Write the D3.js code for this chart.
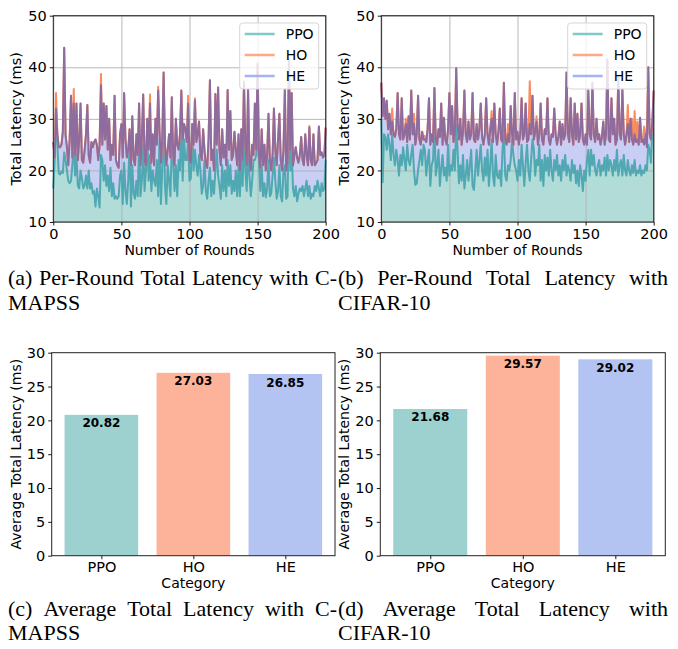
<!DOCTYPE html>
<html>
<head>
<meta charset="utf-8">
<script src="https://cdn.jsdelivr.net/npm/d3@7"></script>
<style>
body{margin:0;background:#fff}
text{font-family:"DejaVu Sans",sans-serif}
text.cap{font-family:"Liberation Serif","Times New Roman",serif}
</style>
</head>
<body>
<svg id="fig" width="678" height="649"></svg>
<script>
// per-round latency, C-MAPSS (rounds 0..200)
const ppoA=[16.5,22,31.8,25,19.5,19.2,19.8,19.5,23.5,22,
20,18,17.5,18,21,25.5,19,23,17,16.5,
20,18.5,16.5,17,19,16.5,20,16.5,17.5,15.5,
16,13,16.5,15,12.8,23,22,18,21,17,
19,16,20.5,15,17.5,14.5,15,14.5,15,19,
20,13.5,21.5,16,13.5,18,25,13,21,15.5,
14.5,18,15,26,15,18,25,16,20,26.5,
18,23,16,20,18,17,22,15,26,13.5,
20,34,17,13.5,21,18,15,25,22,16,
21,15,22,20,31,18,26,22,22,26,
18,18.5,28,20,24,21,19,23,20,15.5,
17,22,16,14.5,18,20.5,15,18,15.5,20,
24,19,17,14.5,21,16,20,15,22,17,
21,15.5,18,16,20,15,21,15,22,17,
27,20,16,25,19,15,18,22,22,23,
29,22,16,21,15,17.5,14.8,16.5,22,15,
15.5,19,22.5,18,14.5,16,21,15,14,20,
21,14.5,15,31.8,20,24,16.5,15,17,14,
15.5,16.5,16,17,15,16.5,18,15,17,14.5,
15.5,15,17,16,18,16.5,15,17.5,16,16.5,
22];
const hoA=[25.5,22.5,35,27,24.5,24.5,25,27.5,43.8,27,
24.5,21,26,34.5,22.5,35.8,23,33,22,26,
33,22,21.5,24,27,32.7,23,21.5,25.5,24.5,
25.5,26,25,22,25,38.7,25,33,26,32.5,
24,30,22,25,23,34.5,22,21,20.5,27,
29,22.5,35,26,22.5,24,28,21,30.5,22,
21,27,23,33,21,26,34.7,22,21,30,
24,34.7,21.5,27,21,30,25,36.2,27.5,21.5,
26,39,25,21,24,27,22.5,34.2,23,21,
30,25,24,27,35.5,26,29,28,25.5,34.5,
22,21.5,29,25,34,25.5,27,29.5,23,22,
28,24,21,20.5,26,37.5,22,24,20,34.8,
25,36.1,24,21,28,22.5,25,21,35.6,24,
31.5,22,23,27.5,24,21,27,20,28,22,
37.2,25,21,35.7,22,20,25,23,33,24,
40.7,23,20.5,28,21,25,20,23,31,22,
20,23,32,24,21,26,31,22,20,24,
35.7,20,22,41.5,24,35,21,23,24.5,22.5,
21.5,23,26.5,22,21,27,23,21,28.6,22,
21,27,21,21.5,22,28.5,23,23.5,22.5,23,
28.3];
const heA=[25.5,22.5,32,27,24.5,24.5,25,27.5,43.8,27,
24.5,21,26,34.5,22.5,33,23,33,22,26,
33,22,21.5,24,27,32.7,23,21.5,25.5,24.5,
25.5,26,25,22,25,36.5,25,33,26,32.5,
24,30,22,25,23,34.5,22,21,20.5,27,
29,22.5,35,26,22.5,24,28,21,30.5,22,
21,27,23,33,21,26,34.7,22,21,30,
24,33,21.5,27,21,30,25,35.5,27.5,21.5,
26,39,25,21,24,27,22.5,34.2,23,21,
30,25,24,27,35.5,26,29,28,25.5,33,
22,21.5,29,25,33.6,25.5,27,29.5,23,22,
28,24,21,20.5,26,37.5,22,24,20,34.8,
25,36.1,24,21,28,22.5,25,21,35.6,24,
31.5,22,23,27.5,24,21,27,20,28,22,
37.2,25,21,35.7,22,20,25,23,33,24,
40.7,23,20.5,28,21,25,20,23,31,22,
20,23,32,24,21,26,31,22,20,24,
35.7,20,22,41.5,24,35,21,23,24.5,22.5,
21.5,23,26.5,22,21,27,23,21,28.3,22,
21,27,21,21.5,22,28.5,23,23.5,22.5,23,
28.3];

// per-round latency, CIFAR-10 (rounds 0..200)
const ppoB=[30,17.7,27,26.5,24,27,25,22,27,23,
21,24,22,19,23,21,24.5,22,20,25,
22,21,23,25,20,17.2,17.5,20,22,24,
21,25,24,19,22,24,17,21,22,29.5,
19,21,24,17,20.5,23,19,20.5,18,25,
19,21,20,24,20,29,24,17.5,21,18,
23,16.5,19,22,18,21,24,17,16.2,20,
24,19,22,25,20,18,22.5,19,24,17,
21,26,19,17,23,19,18.5,20,17,24,
27,19,18,21,20,22,26,23,21,20,
18,22,19,25,21,17,21.5,25,20,18,
22,26,24,19,22,21,25,18,22,17,
23,20,22.5,19,24,20,18,22,20,23,
19,21,18,22,20,23,19,21,20,18,
22,19.5,21,17.5,20,17,21,19,16,20,
18,22,24,19,24,21,23,20,19,21,
22,19,21,20,22.5,19,23,20,22,21,
19,22,20,24,19,21,22,19,23,20,
19,22,20,19,21,19.5,22,19,20,19.5,
21,19,20,19.5,21,20,25,24,21.5,28,
28];
const hoB=[37,30.5,34,30,33.5,28,31,27,32,27,
26.5,28,35,27,26,34,26,27,30,25.5,
30.5,26,35.5,27,31,25,27,34.5,26,25,
27.5,26,26.7,25.5,28,34,25,27,25.5,36,
26,25,28,26.5,33,25,30.2,26,25,28,
35,27,32.5,25.5,27,39.8,29,26,30,25,
27.5,35.5,27,25.5,29.5,26,27,35,26,25.5,
29,26,28,33,26.5,25,27,34,27,25,
28,31.5,25.5,33,27,25,27.5,32,26,25.5,
37,26,25,29,25.5,32.5,27,25,35,26,
27.5,25,27,34,26,27,33,25.5,26,37.3,
27,34.5,26,27.5,30.5,25,27,33,26,25,
28,27,34,26,25,27,26.5,32,27,25,
26.5,29.5,25,29,26,27,39,27,25.5,34,
27,25,33,26,31,25.5,27,33,26,25,
27,25,35.5,27,26,37,27,25.5,30,26,
27,25,26.5,29.5,25,27,41.5,26,25.5,34,
27,30,25,26,38,27,26,35.8,27,25,
27,32.7,25.5,30,30,25,31.5,25.5,29.5,25,
30.2,25.5,26,28.5,27,27.5,40,27,26,29.5,
35.5];
const heB=[37,30.5,34,30,33.5,28,31,27,29.5,27,
26.5,28,35,27,26,34,26,27,29,25.5,
30.5,26,35.5,27,29,25,27,34.5,26,25,
27.5,26,26,25.5,28,34,25,27,25.5,36,
26,25,28,26.5,33,25,30.2,26,25,28,
35,27,32.5,25.5,27,39.8,29,26,30,25,
27.5,35.5,27,25.5,29.5,26,27,35,26,25.5,
29,26,28,33,26.5,25,27,34,27,25,
28,30,25.5,33,27,25,27.5,32,26,25.5,
37,26,25,27,25.5,32.5,27,25,35,26,
27.5,25,27,34,26,27,33,25.5,26,29,
27,34.5,26,27.5,29.5,25,27,33,26,25,
28,27,34,26,25,27,26.5,32,27,25,
26.5,29.5,25,29,26,27,39,27,25.5,34,
27,25,33,26,31,25.5,27,33,26,25,
27,25,35.5,27,26,37,27,25.5,30,26,
27,25,26.5,29.5,25,27,41.5,26,25.5,34,
27,30,25,26,38,27,26,35.8,27,25,
27,29,25.5,30,26,25,27,25.5,26,25,
30.2,25.5,26,25,27,24.5,40,27,26,29.5,
35.5];

const categories=["PPO","HO","HE"];
const avgCmapss=[20.82,27.03,26.85];
const avgCifar=[21.68,29.57,29.02];
const roundTicks=[0,50,100,150,200];
const latencyTicks=[10,20,30,40,50];
const avgTicks=[0,5,10,15,20,25,30];

const fillColors={PPO:"#b2dcd8",HE:"#c9cef5"};
const lineColors={PPO:"#4fa8b2",HO:"#f98b5e",HE:"#8f6c9e"};
const legendColors={PPO:"#7fcac5",HO:"#fca98a",HE:"#a3b2f0"};
const barColors=["#9dd1cf","#fdb399","#b3c3f2"];

const svg=d3.select("#fig");
svg.append("rect").attr("width",678).attr("height",649).attr("fill","#fff");

function styleAxis(s){
  s.select(".domain").remove();
  s.selectAll(".tick line").attr("stroke","#000").attr("stroke-width",0.9);
  s.selectAll(".tick text").attr("font-size",14.5).attr("fill","#000")
    .attr("font-family","DejaVu Sans");
}

function drawRounds(left,right,ppo,ho,he){
  const top=15.7,bottom=222;
  const x=d3.scaleLinear().domain([0,200]).range([left,right]);
  const y=d3.scaleLinear().domain([10,50]).range([bottom,top]);
  const g=svg.append("g");
  const area=d3.area().x((d,i)=>x(i)).y0(y(10)).y1(d=>y(d));
  const line=d3.line().x((d,i)=>x(i)).y(d=>y(d));

  g.append("path").attr("d",area(he)).attr("fill",fillColors.HE);
  g.append("path").attr("d",area(ppo)).attr("fill",fillColors.PPO);

  const xg=g.append("g").attr("transform",`translate(0,${bottom})`)
    .call(d3.axisBottom(x).tickValues(roundTicks).tickSize(-(bottom-top)).tickFormat(""));
  const yg=g.append("g").attr("transform",`translate(${left},0)`)
    .call(d3.axisLeft(y).tickValues(latencyTicks).tickSize(-(right-left)).tickFormat(""));
  [xg,yg].forEach(s=>{
    s.select(".domain").remove();
    s.selectAll("line").attr("stroke","#b0b0b0").attr("stroke-width",0.9);
  });

  g.append("path").attr("d",line(ppo)).attr("fill","none")
    .attr("stroke",lineColors.PPO).attr("stroke-width",2).attr("stroke-linejoin","round");
  g.append("path").attr("d",line(ho)).attr("fill","none")
    .attr("stroke",lineColors.HO).attr("stroke-width",2).attr("stroke-linejoin","round");
  g.append("path").attr("d",line(he)).attr("fill","none")
    .attr("stroke",lineColors.HE).attr("stroke-width",2).attr("stroke-linejoin","round");

  g.append("rect").attr("x",left).attr("y",top)
    .attr("width",right-left).attr("height",bottom-top)
    .attr("fill","none").attr("stroke","#222").attr("stroke-width",1);

  g.append("g").attr("transform",`translate(0,${bottom})`)
    .call(d3.axisBottom(x).tickValues(roundTicks).tickSize(3.5).tickPadding(3))
    .call(styleAxis);
  g.append("g").attr("transform",`translate(${left},0)`)
    .call(d3.axisLeft(y).tickValues(latencyTicks).tickSize(3.5).tickPadding(3))
    .call(styleAxis);

  g.append("text").attr("x",(left+right)/2).attr("y",255)
    .attr("text-anchor","middle").attr("font-size",14).text("Number of Rounds");
  g.append("text").attr("transform",`translate(${left-32},${(top+bottom)/2}) rotate(-90)`)
    .attr("text-anchor","middle").attr("font-size",14.5).text("Total Latency (ms)");

  // legend
  const lx=right-86,ly=23;
  const lg=g.append("g").attr("transform",`translate(${lx},${ly})`);
  lg.append("rect").attr("width",79).attr("height",66).attr("rx",3)
    .attr("fill","#fff").attr("fill-opacity",0.8).attr("stroke","#d6d6d6");
  categories.forEach((c,i)=>{
    const yy=11+i*21;
    lg.append("line").attr("x1",5).attr("x2",35).attr("y1",yy).attr("y2",yy)
      .attr("stroke",legendColors[c]).attr("stroke-width",2.5);
    lg.append("text").attr("x",46).attr("y",yy).attr("dy","0.36em")
      .attr("font-size",14).text(c);
  });
}

function drawBars(left,right,vals){
  const top=352.7,bottom=555.7;
  const x=d3.scaleLinear().domain([-0.54,2.54]).range([left,right]);
  const y=d3.scaleLinear().domain([0,30]).range([bottom,top]);
  const g=svg.append("g");
  g.selectAll("rect.bar").data(vals).enter().append("rect").attr("class","bar")
    .attr("x",(d,i)=>x(i-0.4)).attr("width",(d,i)=>x(i+0.4)-x(i-0.4))
    .attr("y",d=>y(d)).attr("height",d=>y(0)-y(d))
    .attr("fill",(d,i)=>barColors[i]);
  g.selectAll("text.val").data(vals).enter().append("text").attr("class","val")
    .attr("x",(d,i)=>x(i)).attr("y",d=>y(d)+12.5)
    .attr("text-anchor","middle").attr("font-size",12).attr("font-weight","bold")
    .text(d=>d.toFixed(2));
  g.append("rect").attr("x",left).attr("y",top)
    .attr("width",right-left).attr("height",bottom-top)
    .attr("fill","none").attr("stroke","#222").attr("stroke-width",1);
  g.append("g").attr("transform",`translate(0,${bottom})`)
    .call(d3.axisBottom(x).tickValues([0,1,2]).tickFormat(i=>categories[i]).tickSize(3.5).tickPadding(3))
    .call(styleAxis);
  g.append("g").attr("transform",`translate(${left},0)`)
    .call(d3.axisLeft(y).tickValues(avgTicks).tickSize(3.5).tickPadding(3))
    .call(styleAxis);
  g.append("text").attr("x",(left+right)/2).attr("y",588)
    .attr("text-anchor","middle").attr("font-size",14).text("Category");
  g.append("text").attr("transform",`translate(${left-31},${(top+bottom)/2}) rotate(-90)`)
    .attr("text-anchor","middle").attr("font-size",14).text("Average Total Latency (ms)");
}

function caption(line,x0,x1,yb,justify){
  const words=line.split(" ");
  const nodes=words.map(w=>svg.append("text").attr("class","cap").attr("y",yb)
    .attr("font-size",22).attr("fill","#000").text(w));
  const widths=nodes.map(n=>n.node().getComputedTextLength());
  const gap=justify&&words.length>1?Math.max(3,(x1-x0-d3.sum(widths))/(words.length-1)):5.5;
  let cx=x0;
  nodes.forEach((n,i)=>{n.attr("x",cx);cx+=widths[i]+gap;});
}

drawRounds(53.3,325.7,ppoA,hoA,heA);
drawRounds(381.3,653.7,ppoB,hoB,heB);
drawBars(51.7,335,avgCmapss);
drawBars(380.3,665.3,avgCifar);

caption("(a) Per-Round Total Latency with C-",8,337,285,true);
caption("MAPSS",8,337,310,false);
caption("(b) Per-Round Total Latency with",338,668,285,true);
caption("CIFAR-10",338,668,310,false);
caption("(c) Average Total Latency with C-",8,337,616,true);
caption("MAPSS",8,337,640,false);
caption("(d) Average Total Latency with",338,668,616,true);
caption("CIFAR-10",338,668,640,false);
</script>
</body>
</html>
